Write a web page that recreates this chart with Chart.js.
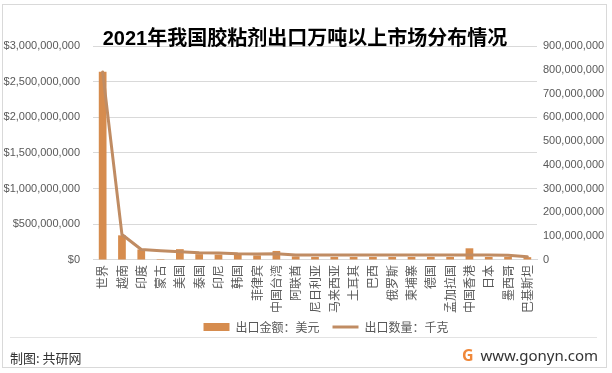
<!DOCTYPE html>
<html>
<head>
<meta charset="utf-8">
<script src="https://cdn.jsdelivr.net/npm/chart.js@4"></script>
<style>
  html, body { margin: 0; padding: 0; background: #fff; }
  #wrap { position: relative; width: 612px; height: 373px; overflow: hidden; font-family: 'Liberation Sans', 'Noto Sans CJK SC', sans-serif; }
  #frame { position: absolute; left: 2px; top: 4px; width: 605px; height: 364px; border: 1px solid #d9d9d9; box-sizing: border-box; }
  #chart { position: absolute; left: 0; top: 0; }
  #title { position: absolute; left: 0; width: 610px; top: 24px; text-align: center; font-size: 20px; font-weight: bold; color: #000; line-height: 28px; }
  #sep { position: absolute; left: 10px; width: 587px; top: 337px; height: 1px; background: #e3e3e3; }
  #made { position: absolute; left: 10px; top: 348px; font-size: 13px; color: #333; font-family: 'Noto Sans CJK SC', sans-serif; }
  #site { position: absolute; right: 14px; top: 345px; font-size: 15px; color: #333; font-family: 'Noto Sans', sans-serif; }
  #logo { position: absolute; left: 462px; top: 347px; width: 14px; height: 16px; font: bold 16px 'Noto Sans', sans-serif; color: #f0883a; line-height: 16px; }
</style>
</head>
<body>
<div id="wrap">
  <canvas id="chart" width="612" height="373"></canvas>
  <div id="title">2021年我国胶粘剂出口万吨以上市场分布情况</div>
  <div id="frame"></div>
  <div id="sep"></div>
  <div id="made">制图: 共研网</div>
  <div id="logo">G</div>
  <div id="site">www.gonyn.com</div>
</div>
<script>
const markets = ['世界', '越南', '印度', '蒙古', '美国', '泰国', '印尼', '韩国', '菲律宾', '中国台湾', '阿联酋', '尼日利亚',
    '马来西亚', '土耳其', '巴西', '俄罗斯', '柬埔寨', '德国', '孟加拉国', '中国香港', '日本', '墨西哥', '巴基斯坦']
// 出口金额 (美元)
const exportValue = [2640000000, 346000000, 148000000, 14000000, 152000000, 82000000, 76000000, 72000000, 64000000,
    127000000, 50000000, 42000000, 42000000, 42000000, 42000000, 42000000, 42000000, 42000000, 42000000,
    164000000, 42000000, 42000000, 40000000]
// 出口数量 (千克)
const exportQty = [791000000, 107000000, 44000000, 39000000, 35000000, 30000000, 29000000, 26000000, 25000000,
    26000000, 21000000, 21000000, 21000000, 21000000, 21000000, 21000000, 21000000, 21000000, 21000000,
    21000000, 21000000, 20000000, 14000000]
const leftTicks = [0, 500000000, 1000000000, 1500000000, 2000000000, 2500000000, 3000000000]
const rightTicks = [0, 100000000, 200000000, 300000000, 400000000, 500000000, 600000000, 700000000, 800000000, 900000000]

const tickFont = { family: "'Liberation Sans', 'Noto Sans CJK SC'", size: 11 }
const cjkFont = { family: "'Noto Sans CJK SC'", size: 12 }

// nudge the legend so it sits where the original one is
const legendShift = {
    id: 'legendShift',
    afterLayout(chart) {
        const l = chart.legend
        l.left += 20; l.right += 20
        l.top -= 10; l.bottom -= 10
    }
}

const ctx = document.getElementById("chart").getContext("2d");
const myChart = new Chart(ctx, {
    data: {
        labels: markets,
        datasets: [{
            type: 'bar',
            label: '出口金额：美元',
            data: exportValue,
            yAxisID: 'y',
            backgroundColor: '#d68c4e',
            borderWidth: 0,
            barPercentage: 0.4,
            categoryPercentage: 1,
            pointStyle: 'rect',
            order: 1
        }, {
            type: 'line',
            label: '出口数量：千克',
            data: exportQty,
            yAxisID: 'y1',
            borderColor: '#c08c63',
            backgroundColor: '#c08c63',
            borderWidth: 3,
            pointRadius: 0,
            tension: 0,
            borderJoinStyle: 'round',
            borderCapStyle: 'round',
            pointStyle: 'line',
            order: 0
        }]
    },
    plugins: [legendShift],
    options: {
        responsive: false,
        animation: false,
        layout: { padding: { left: 0, right: 0, top: 46, bottom: 20 } },
        plugins: {
            tooltip: { enabled: false },
            legend: {
                position: 'bottom',
                labels: {
                    usePointStyle: true,
                    pointStyleWidth: 26,
                    boxWidth: 26,
                    boxHeight: 8,
                    padding: 13,
                    color: '#595959',
                    font: cjkFont,
                    sort: (a, b) => a.datasetIndex - b.datasetIndex
                }
            }
        },
        scales: {
            x: {
                grid: { display: false, drawTicks: false },
                border: { display: true, color: '#d9d9d9' },
                ticks: { color: '#595959', font: cjkFont, minRotation: 90, maxRotation: 90, padding: 5, autoSkip: false }
            },
            y: {
                position: 'left',
                min: 0, max: 3000000000,
                afterBuildTicks: (s) => { s.ticks = leftTicks.map(v => ({ value: v })) },
                grid: { color: '#d9d9d9', drawTicks: false },
                border: { display: false },
                ticks: { color: '#595959', font: tickFont, padding: 13,
                    callback: (v) => '$' + v.toLocaleString('en-US') },
                afterFit: (s) => { s.width = 93 }
            },
            y1: {
                position: 'right',
                min: 0, max: 900000000,
                afterBuildTicks: (s) => { s.ticks = rightTicks.map(v => ({ value: v })) },
                grid: { display: false, drawTicks: false },
                border: { display: false },
                ticks: { color: '#595959', font: tickFont, padding: 6,
                    callback: (v) => v.toLocaleString('en-US') },
                afterFit: (s) => { s.width = 75 }
            }
        }
    }
});
</script>
</body>
</html>
